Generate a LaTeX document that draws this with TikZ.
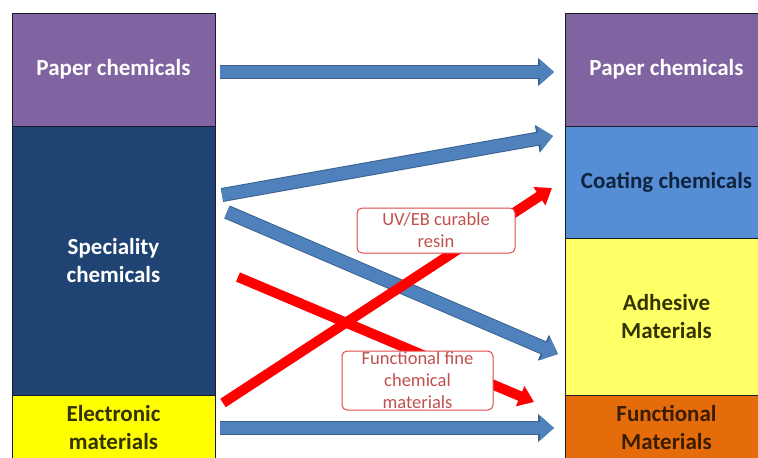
\documentclass[tikz,border=0pt]{standalone}
\usepackage{fontspec}
\setmainfont{Carlito}
\usetikzlibrary{arrows.meta}
\definecolor{cpurple}{HTML}{8064A2}
\definecolor{cnavy}{HTML}{1F4372}
\definecolor{ccoat}{HTML}{558ED5}
\definecolor{cyellow}{HTML}{FFFF00}
\definecolor{cadh}{HTML}{FFFF66}
\definecolor{corange}{HTML}{E46C0A}
\definecolor{boxline}{HTML}{1A1A2A}
\definecolor{arrblue}{HTML}{4F81BD}
\definecolor{arrbluedark}{HTML}{3A6190}
\definecolor{arrred}{HTML}{FF0000}
\definecolor{lblred}{HTML}{C0504D}
\definecolor{lblline}{HTML}{E04848}
\definecolor{txtnavy}{HTML}{10243F}
\definecolor{txtolive}{HTML}{333300}
\definecolor{txtbrown}{HTML}{3A1C00}
\begin{document}
\begin{tikzpicture}[x=1pt,y=-1pt,
  cbox/.style={draw=boxline, line width=1pt, inner sep=0pt, align=center,
    minimum width=203pt, font=\bfseries\fontsize{23}{28}\selectfont},
  barrow/.style={draw=arrblue, line width=12pt,
    -{Triangle[width=24pt,length=14pt]},
    preaction={draw=arrbluedark, line width=14pt,
      -{Triangle[width=27pt,length=16pt]}}},
  rarrow/.style={draw=arrred, line width=10pt,
    -{Triangle[width=21pt,length=15pt]}},
  lbl/.style={draw=lblline, line width=1pt, fill=white, rounded corners=5pt,
    text=lblred, inner sep=0pt, align=center,
    font=\fontsize{18.5}{22}\selectfont}]
\useasboundingbox (0,0) rectangle (758,458);
\fill[white] (0,0) rectangle (758,458);
\begin{scope}
\clip (0,0) rectangle (758,458);
% left column
\node[cbox, fill=cpurple, text=white, minimum height=113pt] (lp) at (113.5,69.5) {Paper chemicals};
\node[cbox, fill=cnavy, text=white, minimum height=269pt] (ls) at (113.5,260.5) {Speciality\\chemicals};
\node[cbox, fill=cyellow, text=txtolive, minimum height=65pt] (le) at (113.5,427.5) {Electronic\\materials};
% right column
\node[cbox, fill=cpurple, text=white, minimum height=113pt] (rp) at (666.5,69.5) {Paper chemicals};
\node[cbox, fill=ccoat, text=txtnavy, minimum height=112pt] (rc) at (666.5,182) {Coating chemicals};
\node[cbox, fill=cadh, text=txtolive, minimum height=157pt] (ra) at (666.5,316.5) {Adhesive\\Materials};
\node[cbox, fill=corange, text=txtbrown, minimum height=65pt] (rf) at (666.5,427.5) {Functional\\Materials};
\end{scope}
% connector end points
\coordinate (b1s) at (220,72);  \coordinate (b1e) at (554,72);
\coordinate (b2s) at (222,195); \coordinate (b2e) at (553,136);
\coordinate (b3s) at (227,212); \coordinate (b3e) at (558,354);
\coordinate (b4s) at (220,428); \coordinate (b4e) at (554,428);
\coordinate (r1s) at (223,403); \coordinate (r1e) at (552,188);
\coordinate (r2s) at (238,277); \coordinate (r2e) at (534,402);
% blue arrows
\draw[barrow] (b1s) -- (b1e);
\draw[barrow] (b2s) -- (b2e);
\draw[barrow] (b3s) -- (b3e);
\draw[barrow] (b4s) -- (b4e);
% red arrows
\draw[rarrow] (r2s) -- (r2e);
\draw[rarrow] (r1s) -- (r1e);
% labels
\node[lbl, minimum width=158pt, minimum height=45pt] (uv) at (436,230.5) {UV/EB curable\\resin};
\node[lbl, minimum width=151pt, minimum height=59pt] (ff) at (417.5,380.5) {Functional fine\\chemical\\materials};
\end{tikzpicture}
\end{document}
